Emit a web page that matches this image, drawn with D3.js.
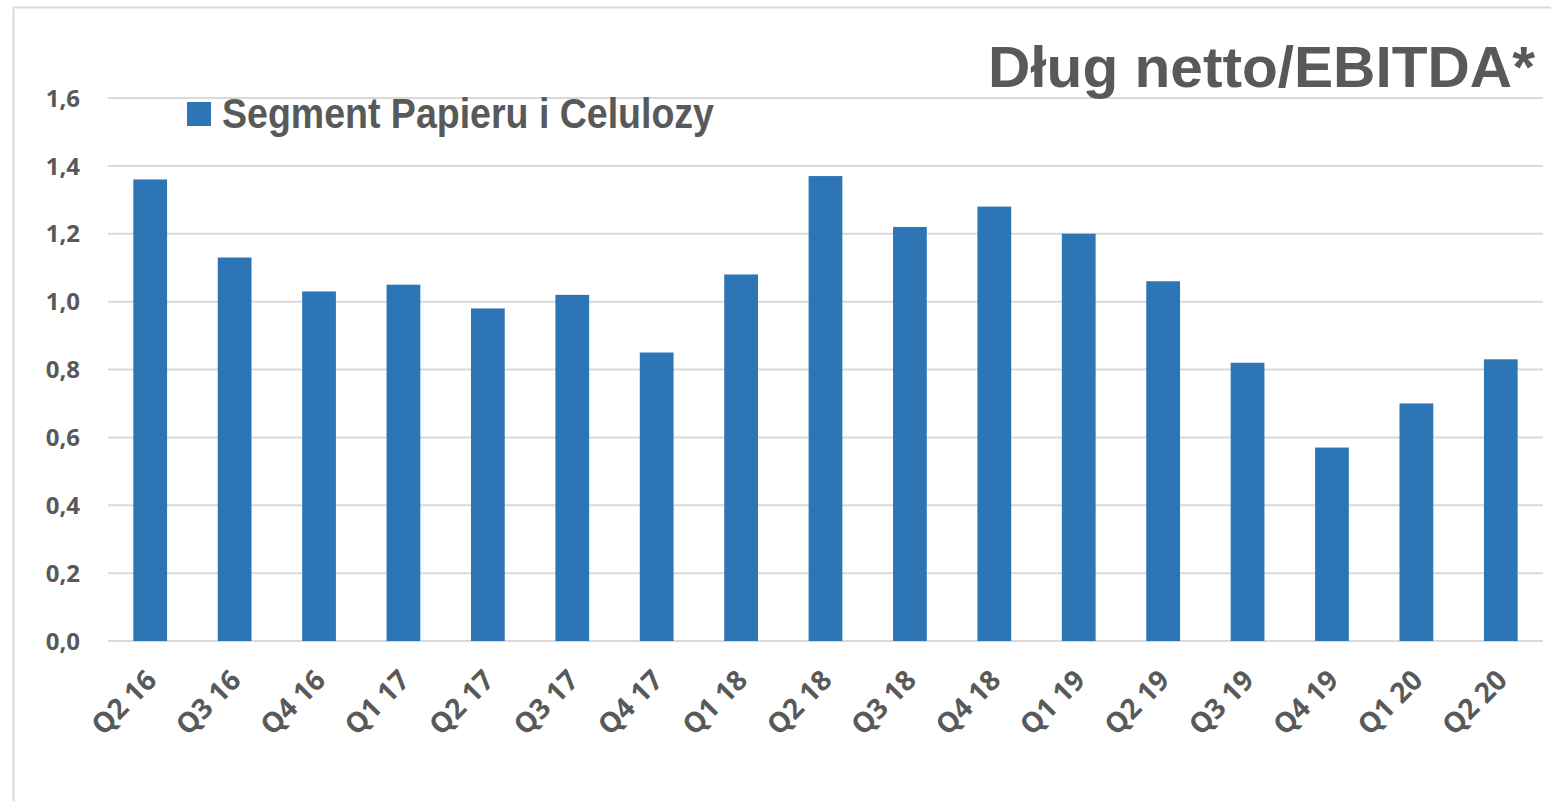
<!DOCTYPE html>
<html>
<head>
<meta charset="utf-8">
<script src="https://cdn.jsdelivr.net/npm/d3@7"></script>
<style>
  body { margin: 0; background: #fff; }
  text { fill: #595959; }
</style>
</head>
<body>
<svg width="1551" height="801"></svg>
<script>
// data
const quarters = ["Q2 16", "Q3 16", "Q4 16", "Q1 17", "Q2 17", "Q3 17", "Q4 17", "Q1 18", "Q2 18",
    "Q3 18", "Q4 18", "Q1 19", "Q2 19", "Q3 19", "Q4 19", "Q1 20", "Q2 20"];
const ratio = [1.36, 1.13, 1.03, 1.05, 0.98, 1.02, 0.85, 1.08, 1.37,
    1.22, 1.28, 1.20, 1.06, 0.82, 0.57, 0.70, 0.83];
const yTicks = [0, 0.2, 0.4, 0.6, 0.8, 1.0, 1.2, 1.4, 1.6];
const seriesName = "Segment Papieru i Celulozy";
const title = "Dług netto/EBITDA*";

let svg = d3.select("svg");
const barColour = "#2e75b6";
const gridColour = "#d9d9d9";

// outer frame (only left and top edges are visible)
svg.append("rect")
    .attr("x", 13.5).attr("y", 7.5)
    .attr("width", 1600).attr("height", 900)
    .attr("fill", "none")
    .attr("stroke", gridColour)
    .attr("stroke-width", 2);

let x = d3.scaleBand()
    .domain(quarters)
    .range([108, 1543])
    .paddingInner(0.6)
    .paddingOuter(0.3);

let y = d3.scaleLinear()
    .domain([0, 1.6])
    .range([641, 98]);

// gridlines
svg.append("g")
    .selectAll("line")
    .data(yTicks)
    .join("line")
    .attr("x1", 108)
    .attr("x2", 1543)
    .attr("y1", d => y(d))
    .attr("y2", d => y(d))
    .attr("stroke", gridColour)
    .attr("stroke-width", 2);

// y labels
svg.append("g")
    .selectAll("text")
    .data(yTicks)
    .join("text")
    .attr("x", 80)
    .attr("y", d => y(d))
    .attr("dy", "0.36em")
    .attr("text-anchor", "end")
    .style("font-family", "'Open Sans', sans-serif")
    .style("font-weight", "bold")
    .style("font-size", "24px")
    .text(d => d.toFixed(1).replace(".", ","));

// bars
svg.append("g")
    .selectAll("rect")
    .data(ratio)
    .join("rect")
    .attr("x", (d, i) => x(quarters[i]))
    .attr("y", d => y(d))
    .attr("width", x.bandwidth())
    .attr("height", d => y(0) - y(d))
    .attr("fill", barColour);

// x labels, rotated
svg.append("g")
    .selectAll("text")
    .data(quarters)
    .join("text")
    .attr("transform", d => "translate(" + (x(d) + x.bandwidth() / 2 + 8) + ",682) rotate(-45)")
    .attr("text-anchor", "end")
    .style("font-family", "'Open Sans', sans-serif")
    .style("font-weight", "bold")
    .style("font-size", "28px")
    .text(d => d);

// legend
svg.append("rect")
    .attr("x", 187).attr("y", 102)
    .attr("width", 24).attr("height", 24)
    .attr("fill", barColour);

svg.append("text")
    .attr("x", 222)
    .attr("y", 128)
    .attr("textLength", 492)
    .attr("lengthAdjust", "spacingAndGlyphs")
    .style("font-family", "'Liberation Sans Narrow', 'Liberation Sans', Arial, sans-serif")
    .style("font-weight", "bold")
    .style("font-size", "42px")
    .text(seriesName);

// title
svg.append("text")
    .attr("x", 988)
    .attr("y", 87)
    .attr("textLength", 547)
    .attr("lengthAdjust", "spacingAndGlyphs")
    .style("font-family", "'Liberation Sans', Arial, sans-serif")
    .style("font-weight", "bold")
    .style("font-size", "57px")
    .text(title);
</script>
</body>
</html>
